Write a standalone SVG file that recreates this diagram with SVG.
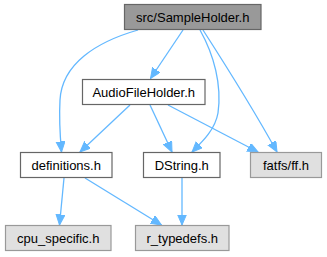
<svg xmlns="http://www.w3.org/2000/svg" width="327" height="257" viewBox="0 0 327 257">
  <style>
    .node rect { stroke-width: 1.2; }
    .main rect { fill: #999999; stroke: #666666; }
    .doc rect { fill: #ffffff; stroke: #666666; }
    .ext rect { fill: #e0e0e0; stroke: #999999; }
    .node text { font-family: "Liberation Sans", Arial, Helvetica, sans-serif; font-size: 13px; fill: #000000; text-anchor: middle; }
    .edge { fill: none; stroke: #63b8ff; stroke-width: 1.3; marker-end: url(#arrow); }
  </style>
  <defs>
    <marker id="arrow" markerUnits="userSpaceOnUse" markerWidth="11" markerHeight="10" refX="10.5" refY="4.5" orient="auto">
      <path d="M0,0 L10.5,4.5 L0,9 Z" fill="#63b8ff" stroke="#63b8ff" stroke-width="1"/>
    </marker>
  </defs>
  <rect width="327" height="257" fill="#ffffff"/>

  <g id="edges">
    <path class="edge" d="M183,30 L150.5,78.5"/>
    <path class="edge" d="M138,30 C96,42 62,64 60,100 C59,118 60,135 61.5,152"/>
    <path class="edge" d="M200,30 C214,55 222,85 218,113 C215,130 202,142 192,152"/>
    <path class="edge" d="M203,30 C230,72 255,112 277,152"/>
    <path class="edge" d="M130,105 L80,152"/>
    <path class="edge" d="M150,105 L172,152"/>
    <path class="edge" d="M168,105 L258,152"/>
    <path class="edge" d="M64,178 L59.5,225"/>
    <path class="edge" d="M85,178 L161.5,225"/>
    <path class="edge" d="M182,178 L182,225"/>
  </g>

  <g id="node-sampleholder" class="node main">
    <rect x="124.5" y="4.5" width="136.5" height="25"/>
    <text x="192.75" y="21.5">src/SampleHolder.h</text>
  </g>
  <g id="node-audiofileholder" class="node doc">
    <rect x="82.5" y="79.5" width="122.5" height="25"/>
    <text x="143.75" y="96.5">AudioFileHolder.h</text>
  </g>
  <g id="node-definitions" class="node doc">
    <rect x="20.5" y="152.5" width="91.5" height="25"/>
    <text x="66.25" y="169.5">definitions.h</text>
  </g>
  <g id="node-dstring" class="node doc">
    <rect x="143.5" y="152.5" width="76.5" height="25"/>
    <text x="181.75" y="169.5">DString.h</text>
  </g>
  <g id="node-ff" class="node ext">
    <rect x="250.5" y="152.5" width="71" height="25"/>
    <text x="286" y="169.5">fatfs/ff.h</text>
  </g>
  <g id="node-cpu-specific" class="node ext">
    <rect x="5.5" y="225.5" width="105.5" height="25"/>
    <text x="58.25" y="242.5">cpu_specific.h</text>
  </g>
  <g id="node-r-typedefs" class="node ext">
    <rect x="135.5" y="225.5" width="93.5" height="25"/>
    <text x="182.25" y="242.5">r_typedefs.h</text>
  </g>
</svg>
